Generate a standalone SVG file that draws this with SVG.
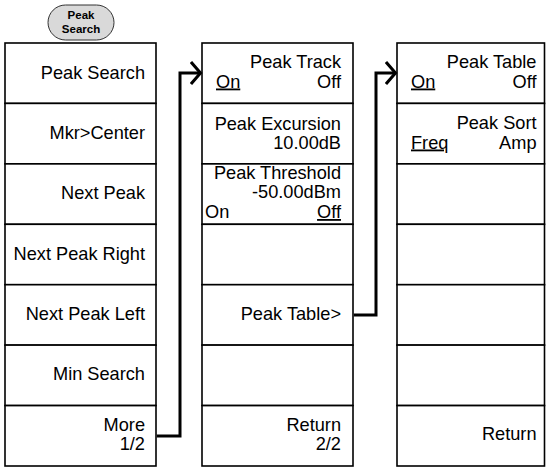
<svg xmlns="http://www.w3.org/2000/svg" width="546" height="467" viewBox="0 0 546 467">
<style>
.cell{fill:#fff;stroke:#000;stroke-width:1.6}
.t{font-family:"Liberation Sans",Arial,sans-serif;font-size:18.2px;fill:#000}
.e{text-anchor:end}
.u{text-decoration:underline}
.key{fill:#d9d9d9;stroke:#333;stroke-width:1}
.kt{font-family:"Liberation Sans",Arial,sans-serif;font-size:11.5px;font-weight:bold;text-anchor:middle;fill:#000}
.conn{fill:none;stroke:#000;stroke-width:3}
</style>
<defs>
<marker id="chev" markerUnits="userSpaceOnUse" markerWidth="14" markerHeight="26" refX="11" refY="12" orient="auto" viewBox="0 0 14 26">
<path d="M1.5,1 L11,12 L1.5,23" fill="none" stroke="#000" stroke-width="3"/>
</marker>
</defs>
<g id="key-peak-search">
<rect class="key" x="48" y="5" width="66" height="35" rx="17.5"/>
<text class="kt" x="81" y="19">Peak</text>
<text class="kt" x="81" y="33">Search</text>
</g>
<g id="col1">
<g id="c1r1"><rect class="cell" x="5" y="43" width="151" height="60.4"/><text class="t e" x="145" y="78.5">Peak Search</text></g>
<g id="c1r2"><rect class="cell" x="5" y="103.4" width="151" height="60.4"/><text class="t e" x="145" y="138.7">Mkr&gt;Center</text></g>
<g id="c1r3"><rect class="cell" x="5" y="163.9" width="151" height="60.4"/><text class="t e" x="145" y="199">Next Peak</text></g>
<g id="c1r4"><rect class="cell" x="5" y="224.3" width="151" height="60.4"/><text class="t e" x="145" y="259.5">Next Peak Right</text></g>
<g id="c1r5"><rect class="cell" x="5" y="284.7" width="151" height="60.4"/><text class="t e" x="145" y="320">Next Peak Left</text></g>
<g id="c1r6"><rect class="cell" x="5" y="345.1" width="151" height="60.4"/><text class="t e" x="145" y="380.3">Min Search</text></g>
<g id="c1r7"><rect class="cell" x="5" y="405.6" width="151" height="60.4"/><text class="t e" x="145" y="431">More</text><text class="t e" x="145" y="449.5">1/2</text></g>
</g>
<g id="col2">
<g id="c2r1"><rect class="cell" x="202" y="43" width="151" height="60.4"/><text class="t e" x="341" y="67.5">Peak Track</text><text class="t u" x="216" y="87.5">On</text><text class="t e" x="341" y="87.5">Off</text></g>
<g id="c2r2"><rect class="cell" x="202" y="103.4" width="151" height="60.4"/><text class="t e" x="341" y="129.5">Peak Excursion</text><text class="t e" x="341" y="148.5">10.00dB</text></g>
<g id="c2r3"><rect class="cell" x="202" y="163.9" width="151" height="60.4"/><text class="t e" x="341" y="179">Peak Threshold</text><text class="t e" x="341" y="198">-50.00dBm</text><text class="t" x="205" y="218">On</text><text class="t e u" x="341" y="218">Off</text></g>
<g id="c2r4"><rect class="cell" x="202" y="224.3" width="151" height="60.4"/></g>
<g id="c2r5"><rect class="cell" x="202" y="284.7" width="151" height="60.4"/><text class="t e" x="341" y="319.5">Peak Table&gt;</text></g>
<g id="c2r6"><rect class="cell" x="202" y="345.1" width="151" height="60.4"/></g>
<g id="c2r7"><rect class="cell" x="202" y="405.6" width="151" height="60.4"/><text class="t e" x="341" y="430.5">Return</text><text class="t e" x="341" y="449.5">2/2</text></g>
</g>
<g id="col3">
<g id="c3r1"><rect class="cell" x="397" y="43" width="147.5" height="60.4"/><text class="t e" x="536.5" y="67.5">Peak Table</text><text class="t u" x="411" y="87.5">On</text><text class="t e" x="536.5" y="87.5">Off</text></g>
<g id="c3r2"><rect class="cell" x="397" y="103.4" width="147.5" height="60.4"/><text class="t e" x="536.5" y="129">Peak Sort</text><text class="t u" x="411" y="148.5">Freq</text><text class="t e" x="536.5" y="148.5">Amp</text></g>
<g id="c3r3"><rect class="cell" x="397" y="163.9" width="147.5" height="60.4"/></g>
<g id="c3r4"><rect class="cell" x="397" y="224.3" width="147.5" height="60.4"/></g>
<g id="c3r5"><rect class="cell" x="397" y="284.7" width="147.5" height="60.4"/></g>
<g id="c3r6"><rect class="cell" x="397" y="345.1" width="147.5" height="60.4"/></g>
<g id="c3r7"><rect class="cell" x="397" y="405.6" width="147.5" height="60.4"/><text class="t e" x="536.5" y="440">Return</text></g>
</g>
<g id="connectors">
<path class="conn" d="M156.8,436 H180 V73 H200.5" marker-end="url(#chev)"/>
<path class="conn" d="M353.8,315 H376 V73 H395.5" marker-end="url(#chev)"/>
</g>
</svg>
